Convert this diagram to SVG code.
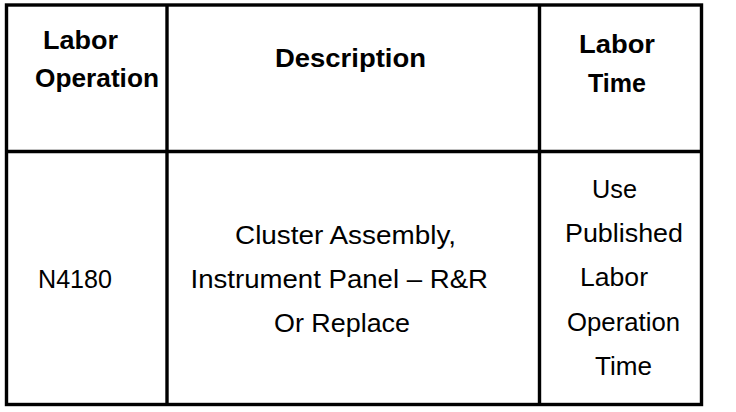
<svg xmlns="http://www.w3.org/2000/svg" width="736" height="412" viewBox="0 0 736 412">
<style>
.ln{stroke:#000;stroke-width:3.4;fill:none}
text{font-family:"Liberation Sans",Arial,sans-serif;fill:#000}
.h{font-weight:bold;font-size:25.5px}
.b{font-size:26px}
</style>
<rect width="736" height="412" fill="#fff"/>
<g id="grid">
<rect class="ln" x="6.5" y="5" width="695" height="399.5"/>
<line class="ln" x1="6.5" y1="151.5" x2="701.5" y2="151.5"/>
<line class="ln" x1="167" y1="5" x2="167" y2="404.5"/>
<line class="ln" x1="539.5" y1="5" x2="539.5" y2="404.5"/>
</g>
<g id="h1"><text class="h" x="43" y="49" textLength="75" lengthAdjust="spacingAndGlyphs">Labor</text><text class="h" x="35" y="87" textLength="124" lengthAdjust="spacingAndGlyphs">Operation</text></g>
<g id="h2"><text class="h" x="275" y="67" textLength="151" lengthAdjust="spacingAndGlyphs">Description</text></g>
<g id="h3"><text class="h" x="579" y="53" textLength="76" lengthAdjust="spacingAndGlyphs">Labor</text><text class="h" x="588" y="92" textLength="58" lengthAdjust="spacingAndGlyphs">Time</text></g>
<g id="c1"><text class="b" x="38" y="288" textLength="74" lengthAdjust="spacingAndGlyphs">N4180</text></g>
<g id="c2">
<text class="b" x="235" y="244" textLength="221" lengthAdjust="spacingAndGlyphs">Cluster Assembly,</text>
<text class="b" x="190.5" y="288" textLength="297.5" lengthAdjust="spacingAndGlyphs">Instrument Panel – R&amp;R</text>
<text class="b" x="274" y="332" textLength="136" lengthAdjust="spacingAndGlyphs">Or Replace</text>
</g>
<g id="c3">
<text class="b" x="592" y="198" textLength="45" lengthAdjust="spacingAndGlyphs">Use</text>
<text class="b" x="565" y="242" textLength="118" lengthAdjust="spacingAndGlyphs">Published</text>
<text class="b" x="580" y="286" textLength="68" lengthAdjust="spacingAndGlyphs">Labor</text>
<text class="b" x="567" y="331" textLength="113" lengthAdjust="spacingAndGlyphs">Operation</text>
<text class="b" x="595" y="375" textLength="57" lengthAdjust="spacingAndGlyphs">Time</text>
</g>
</svg>
